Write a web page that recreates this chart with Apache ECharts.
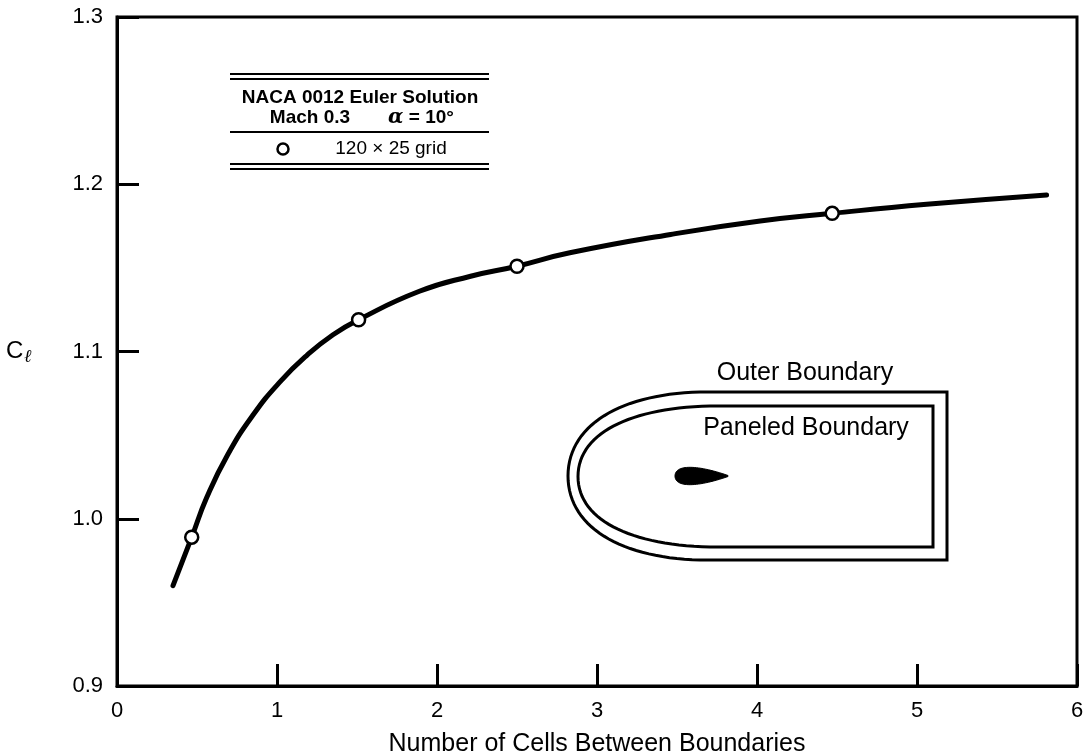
<!DOCTYPE html>
<html>
<head>
<meta charset="utf-8">
<script src="https://cdn.jsdelivr.net/npm/echarts@6/dist/echarts.min.js"></script>
<style>
html,body{margin:0;padding:0;background:#fff;}
#chart{width:1088px;height:755px;}
</style>
</head>
<body>
<div id="chart"></div>
<script>
// ---- data ----
var curveX = [0.35, 0.467, 0.56, 0.69, 0.85, 1.02, 1.19, 1.35, 1.51, 1.89, 2.21, 2.50, 2.83, 3.46, 4.02, 4.47, 5.06, 5.81];
var curveY = [0.960, 0.989, 1.0125, 1.038, 1.062, 1.082, 1.098, 1.110, 1.119, 1.136, 1.145, 1.151, 1.159, 1.170, 1.178, 1.1826, 1.188, 1.1936];
var gridX = [0.467, 1.51, 2.50, 4.47];
var gridY = [0.989, 1.119, 1.151, 1.1826];
var xTicks = [0, 1, 2, 3, 4, 5, 6];
var yTicks = [0.9, 1.0, 1.1, 1.2, 1.3];

var FONT = '"Liberation Sans", Arial, Helvetica, sans-serif';

var curveData = curveX.map(function (x, i) { return [x, curveY[i]]; });
var pointData = gridX.map(function (x, i) { return [x, gridY[i]]; });

var chart = echarts.init(document.getElementById('chart'), null, {renderer: 'canvas'});

var legendLeft = 230, legendRight = 489;
function hline(y, w) {
  return {type: 'line', shape: {x1: legendLeft, y1: y, x2: legendRight, y2: y},
          style: {stroke: '#000', lineWidth: w || 2}, silent: true};
}
// sample a cubic bezier (schematic drawing helper)
function bez(p0, p1, p2, p3, n) {
  var out = [];
  for (var i = 0; i <= n; i++) {
    var t = i / n, u = 1 - t;
    out.push([
      u*u*u*p0[0] + 3*u*u*t*p1[0] + 3*u*t*t*p2[0] + t*t*t*p3[0],
      u*u*u*p0[1] + 3*u*u*t*p1[1] + 3*u*t*t*p2[1] + t*t*t*p3[1]
    ]);
  }
  return out;
}
function boundary(xn, xs, xr, yt, yb, k) {
  var yc = (yt + yb) / 2;
  var pts = [[xs, yt], [xr, yt], [xr, yb], [xs, yb]];
  pts = pts.concat(bez([xs, yb], [xs - k, yb - 2], [xn, yc + (yb - yc) * 0.6], [xn, yc], 30).slice(1));
  pts = pts.concat(bez([xn, yc], [xn, yc - (yc - yt) * 0.6], [xs - k, yt + 2], [xs, yt], 30).slice(1));
  return pts;
}
var outerPts = boundary(568, 700, 947, 392, 560, 80);
var innerPts = boundary(578, 710, 933, 406, 547, 82);
var foilPts = bez([675, 476], [675, 464], [698, 465], [728, 475.5], 30)
  .concat(bez([728, 476.5], [698, 487], [675, 488], [675, 476], 30));

chart.setOption({
  backgroundColor: '#fff',
  animation: false,
  grid: {left: 117, right: 11, top: 17, bottom: 69, containLabel: false, outerBoundsMode: 'none',
    show: true, borderColor: '#000', borderWidth: 3, backgroundColor: 'transparent'},
  xAxis: {
    type: 'value', min: xTicks[0], max: xTicks[xTicks.length - 1], interval: 1,
    name: 'Number of Cells Between Boundaries', nameLocation: 'middle', nameGap: 46,
    nameTextStyle: {fontFamily: FONT, fontSize: 25, color: '#000'},
    axisLine: {show: true, lineStyle: {color: '#000', width: 3}},
    axisTick: {show: true, inside: true, length: 22, lineStyle: {color: '#000', width: 3}},
    axisLabel: {fontFamily: FONT, fontSize: 22, color: '#000', margin: 14},
    splitLine: {show: false}
  },
  yAxis: {
    type: 'value', min: yTicks[0], max: yTicks[yTicks.length - 1], interval: 0.1,
    name: '{c|C}{l|ℓ}', nameLocation: 'middle', nameGap: 85, nameRotate: 0,
    nameTextStyle: {
      rich: {
        c: {fontFamily: FONT, fontSize: 24, color: '#000'},
        l: {fontFamily: 'DejaVu Serif, serif', fontSize: 18, fontStyle: 'italic', fontWeight: 'bold', color: '#000', padding: [12, 0, 0, 1]}
      }
    },
    axisLine: {show: true, lineStyle: {color: '#000', width: 3}},
    axisTick: {show: true, inside: true, length: 22, lineStyle: {color: '#000', width: 3}},
    axisLabel: {fontFamily: FONT, fontSize: 22, color: '#000', margin: 14,
      formatter: function (v) { return v.toFixed(1); }},
    splitLine: {show: false}
  },
  series: [
    {
      type: 'line', data: curveData, smooth: 0.5, showSymbol: false,
      lineStyle: {color: '#000', width: 5, cap: 'round', join: 'round'}, z: 3
    },
    {
      type: 'scatter', data: pointData, symbol: 'circle', symbolSize: 13,
      itemStyle: {color: '#fff', borderColor: '#000', borderWidth: 2.5, opacity: 1}, z: 4
    }
  ],
  graphic: [
    // legend box
    hline(74, 2), hline(79, 2), hline(132, 2), hline(164, 2), hline(169, 2),
    {type: 'text', x: 360, y: 98, style: {text: 'NACA 0012 Euler Solution', font: 'bold 19px ' + FONT, fill: '#000', align: 'center', verticalAlign: 'middle'}},
    {type: 'text', x: 310, y: 118, style: {text: 'Mach 0.3', font: 'bold 19px ' + FONT, fill: '#000', align: 'center', verticalAlign: 'middle'}},
    {type: 'text', x: 421, y: 118, style: {
      text: '{a|α} = 10°', font: 'bold 19px ' + FONT, fill: '#000', align: 'center', verticalAlign: 'middle',
      rich: {a: {fontFamily: 'DejaVu Serif, serif', fontStyle: 'italic', fontWeight: 'bold', fontSize: 20, fill: '#000'}}
    }},
    {type: 'circle', shape: {cx: 283, cy: 149, r: 5.5}, style: {fill: '#fff', stroke: '#000', lineWidth: 2.5}},
    {type: 'text', x: 391, y: 149, style: {text: '120 × 25 grid', font: '19px ' + FONT, fill: '#000', align: 'center', verticalAlign: 'middle'}},
    // inset schematic
    {type: 'polygon', shape: {points: outerPts}, style: {fill: 'none', stroke: '#000', lineWidth: 3}},
    {type: 'polygon', shape: {points: innerPts}, style: {fill: 'none', stroke: '#000', lineWidth: 3}},
    {type: 'polygon', shape: {points: foilPts}, style: {fill: '#000', stroke: '#000', lineWidth: 1}},
    {type: 'text', x: 805, y: 373, style: {text: 'Outer Boundary', font: '25px ' + FONT, fill: '#000', align: 'center', verticalAlign: 'middle'}},
    {type: 'text', x: 806, y: 428, style: {text: 'Paneled Boundary', font: '25px ' + FONT, fill: '#000', align: 'center', verticalAlign: 'middle'}}
  ]
});
</script>
</body>
</html>
